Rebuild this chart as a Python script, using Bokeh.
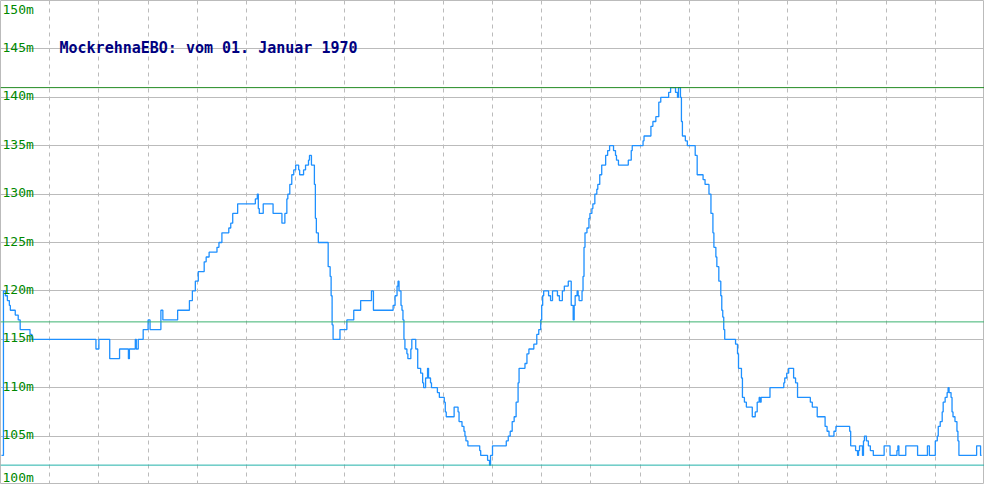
from bokeh.plotting import figure
from bokeh.models import Range1d, FixedTicker, Span, Label, ColumnDataSource
from bokeh.core.properties import value
from bokeh.embed import file_html
from bokeh.resources import INLINE

# ---------------- data ----------------
titel = "MockrehnaEBO: vom 01. Januar 1970"

tag = [1, 3, 5, 7, 9, 10, 15, 18, 20, 30, 32, 97, 100, 111, 121, 130, 131, 137, 138, 140,
       145, 150, 152, 163, 165, 180, 192, 195, 198, 201, 207, 209, 212, 220, 222, 225, 232,
       234, 236, 241, 259, 261, 262, 263, 267, 277, 286, 289, 291, 292, 294, 296, 298, 300,
       303, 304, 308, 310, 313, 314, 316, 319, 320, 321, 323, 333, 335, 336, 337, 338, 345,
       352, 359, 366, 377, 379, 399, 401, 403, 404, 405, 407, 408, 409, 410, 411, 413, 414,
       417, 418, 422, 424, 427, 429, 430, 432, 434, 435, 437, 438, 444, 446, 451, 452, 453,
       461, 465, 466, 469, 471, 472, 473, 475, 487, 488, 495, 497, 498, 500, 514, 516, 518,
       520, 522, 524, 526, 527, 533, 535, 537, 542, 545, 547, 549, 550, 551, 552, 557, 559,
       561, 566, 568, 571, 573, 577, 580, 582, 583, 584, 586, 587, 588, 591, 592, 593, 594,
       596, 598, 599, 601, 602, 604, 606, 607, 609, 611, 615, 617, 619, 623, 625, 626, 628,
       638, 641, 642, 653, 654, 661, 663, 666, 669, 671, 679, 681, 686, 688, 689, 691, 692,
       693, 696, 698, 706, 708, 714, 716, 720, 722, 724, 725, 727, 728, 730, 732, 733, 734,
       735, 736, 747, 749, 750, 753, 754, 756, 758, 764, 767, 769, 771, 772, 773, 782, 796,
       797, 799, 801, 806, 808, 810, 823, 825, 830, 838, 840, 842, 847, 849, 863, 864, 869,
       871, 872, 873, 876, 877, 878, 880, 882, 884, 887, 898, 904, 911, 912, 913, 920, 932,
       942, 944, 950, 952, 953, 955, 957, 958, 960, 962, 963, 964, 966, 967, 968, 970, 972,
       973, 974, 992, 996, 997]

pegel = [103, 120, 119.5, 119, 118.5, 118, 117.5, 117, 116, 115.5, 115, 114, 115, 113, 114,
         113, 114, 115, 114, 115,
         116, 117, 116, 118, 117, 118, 119, 120, 121, 122, 123, 123.5, 124, 124.5, 125, 126, 126.5,
         127, 128, 129, 129.5, 130, 128.5, 128, 129, 128, 127, 128, 129.5, 130, 131, 132, 132.5, 133,
         132.5, 132, 132.5, 133, 133.5, 134, 133, 131, 127.5, 126, 125, 122.5, 121.5, 119.5, 116.5, 115, 116,
         117, 118, 119, 120, 118, 118.5, 119.5, 120.5, 121, 120, 118.5, 118, 117, 115, 114, 113.5, 113,
         114, 115, 114, 112, 111.5, 110.5, 110, 111, 112, 111, 110.5, 110, 109.5, 109, 108.5, 107.5, 107,
         108, 107.5, 106.5, 106, 105.5, 105, 104.5, 104, 103.5, 103, 102.5, 102, 103, 104, 104.5, 105, 105.5,
         106.5, 107, 108.5, 110.5, 112, 112.5, 113.5, 114, 114.5, 115.5, 116, 117, 118.5, 119.5, 120, 119.5, 119,
         120, 119.5, 119, 120, 120.5, 121, 118.5, 117, 118.5, 119.5, 120, 119.5, 119, 120, 121.5, 124.5, 126,
         126.5, 127.5, 128, 128.5, 129, 130, 130.5, 131, 132, 133, 134, 134.5, 135, 134.5, 134, 133.5, 133,
         133.5, 134.5, 135, 135.5, 136, 137, 137.5, 138, 139.5, 140, 140.5, 141, 140.5, 140, 141, 140, 137.5,
         136, 135.5, 135, 134, 132, 131.5, 131, 130, 128, 126, 124.5, 123.5, 122.5, 121, 119.5, 118, 117.3,
         116, 115, 114.5, 113.5, 112, 111, 109, 108.5, 108, 107, 107.5, 108.5, 109, 108.5, 109, 110, 110.5,
         111, 111.5, 112, 111, 110.5, 109, 108.5, 108, 107, 106, 105.5, 105, 105.5, 106, 105.5, 104, 103.5,
         103, 103.5, 104, 103, 104.5, 105, 104.5, 104, 103.5, 103, 104, 103, 103.5, 104, 103, 104, 103,
         104, 103, 104.5, 105, 106, 106.5, 107.5, 108.5, 109, 109.5, 110, 109.5, 109, 107.5, 107, 106.5, 105.5,
         104.5, 103, 104, 103, 103]

y_ticks = [100, 105, 110, 115, 120, 125, 130, 135, 140, 145, 150]
x_ticks = [50, 100, 150, 200, 250, 300, 350, 400, 450, 500, 550, 600, 650, 700, 750, 800, 850, 900, 950]

maximum = 141
mittel = 116.8
minimum = 102

# ---------------- figure ----------------
W, H = 984, 484
p = figure(width=W, height=H, output_backend="svg", toolbar_location=None,
           x_range=Range1d(0, 1000), y_range=Range1d(100, 150),
           min_border=0, min_border_left=0, min_border_right=0,
           min_border_top=0, min_border_bottom=0)
p.axis.visible = False
p.background_fill_color = "white"
p.border_fill_color = "white"
p.outline_line_color = "#BBBBBB"
p.outline_line_width = 1

p.ygrid.ticker = FixedTicker(ticks=y_ticks)
p.ygrid.grid_line_color = "#BBBBBB"
p.ygrid.grid_line_width = 1
p.xgrid.ticker = FixedTicker(ticks=x_ticks)
p.xgrid.grid_line_color = "#BBBBBB"
p.xgrid.grid_line_width = 1
p.xgrid.grid_line_dash = "4 4"

# reference levels
for lvl, col in [(maximum, "#228B22"), (mittel, "#3CB371"), (minimum, "#20B2AA")]:
    p.add_layout(Span(location=lvl, dimension="width", line_color=col, line_width=1))

# data line
p.step(tag, pegel, mode="after", line_color="#1E90FF", line_width=1.3)

# y labels
offs = []
for t in y_ticks:
    if t == max(y_ticks):
        offs.append(9)
    elif t == min(y_ticks):
        offs.append(-7)
    else:
        offs.append(-1.5)
lab_src = ColumnDataSource(dict(x=[0] * len(y_ticks), y=y_ticks,
                                txt=[f"{t}m" for t in y_ticks], yo=offs))
p.text(x="x", y="y", text="txt", source=lab_src, x_offset=2, y_offset="yo",
       text_font=value("DejaVu Sans Mono"), text_font_size="13px",
       text_color="#008800", text_baseline="middle", text_align="left")

# title
p.add_layout(Label(x=59, y=H - 47, x_units="screen", y_units="screen", text=titel,
                   text_font="DejaVu Sans Mono", text_font_size="15px",
                   text_font_style="bold", text_color="#000080",
                   text_baseline="middle"))

open("out.html", "w").write(file_html(p, INLINE))
